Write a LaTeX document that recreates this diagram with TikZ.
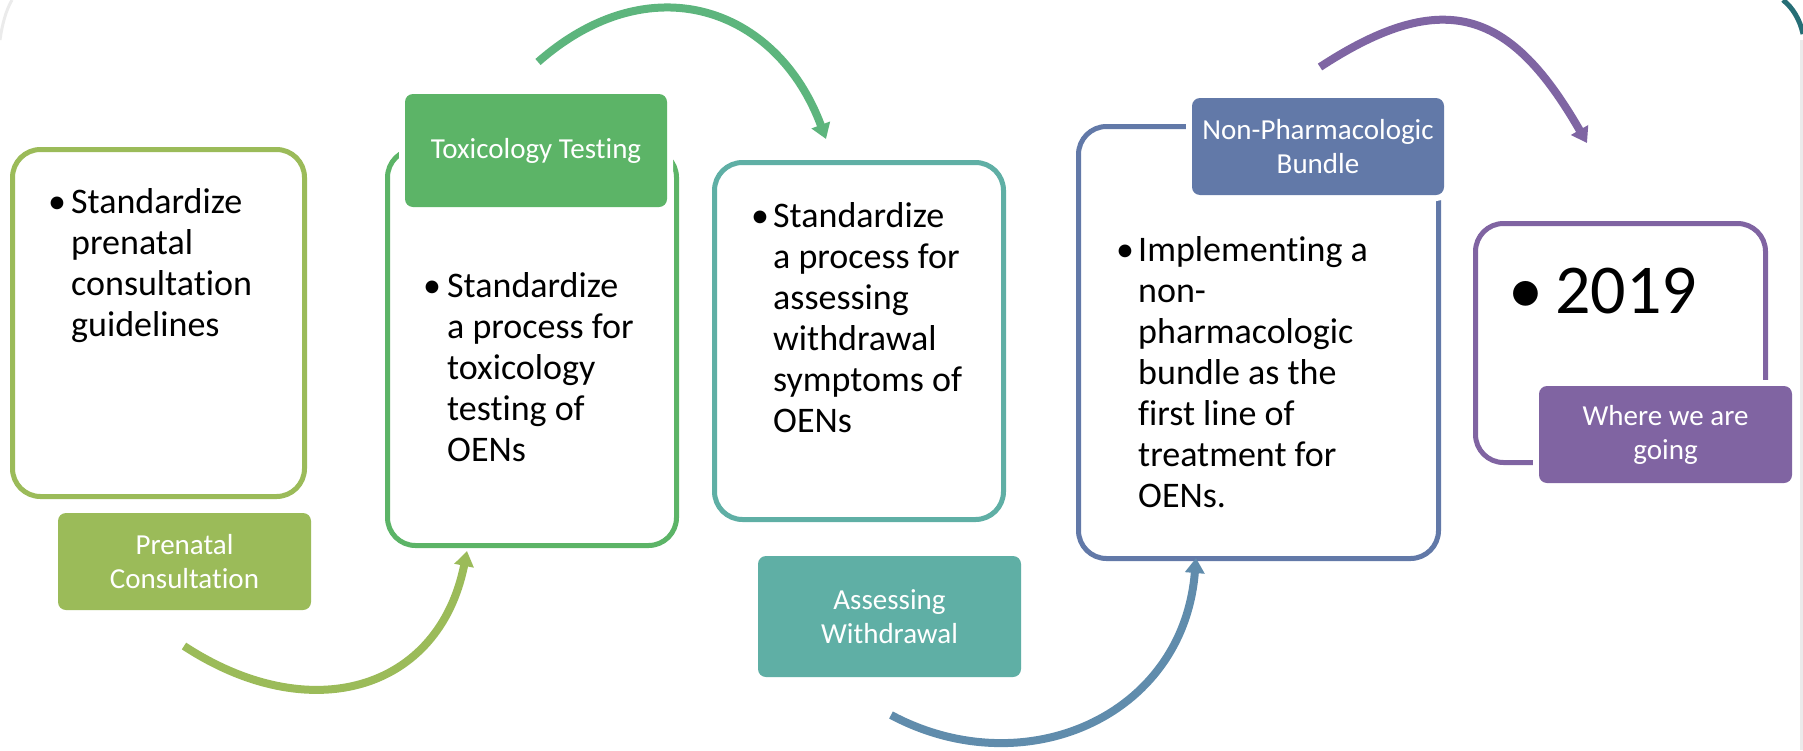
\documentclass[tikz,border=0pt]{standalone}
\usepackage{fontspec}
\setmainfont{Carlito}[Ligatures={NoCommon}]
\usetikzlibrary{arrows.meta}
\definecolor{cA}{RGB}{155,187,89}
\definecolor{cB}{RGB}{92,180,103}
\definecolor{cC}{RGB}{95,175,165}
\definecolor{cD}{RGB}{98,121,168}
\definecolor{cE}{RGB}{128,100,162}
\definecolor{aB}{RGB}{93,181,125}
\definecolor{aC}{RGB}{96,140,172}
\definecolor{aD}{RGB}{127,101,163}
\definecolor{frame}{RGB}{38,110,118}
\begin{document}
\begin{tikzpicture}[x=1pt,y=-1pt,
  card/.style={draw, line width=5pt, fill=white, rounded corners=28pt, inner sep=0pt},
  tag/.style={rounded corners=8pt, inner sep=0pt, text=white, align=center,
    font=\fontsize{29}{34}\selectfont, preaction={draw=white, line width=12pt}},
  bodytext/.style={anchor=base west, inner sep=0pt, font=\fontsize{36}{41}\selectfont},
  flow/.style={line width=8pt, -{Triangle[width=19pt,length=15pt]}}
]
\useasboundingbox (0,0) rectangle (1803,750);
% slide frame remnants
\draw[line width=5pt, frame] (1783,0) .. controls (1793,8) and (1800,20) .. (1803,34);
\draw[line width=3pt, black!8] (1801,40) -- (1801,750);
\draw[line width=3pt, black!8] (0,40) .. controls (2,25) and (6,10) .. (12,0);

% boxes
\node[card, draw=cA, minimum width=292pt, minimum height=347pt] (box1) at (158.5,323) {};
\node[card, draw=cB, minimum width=289pt, minimum height=396pt] (box2) at (532,347.5) {};
\node[card, draw=cC, minimum width=289pt, minimum height=357pt] (box3) at (859,341) {};
\node[card, draw=cD, minimum width=360pt, minimum height=432pt] (box4) at (1258.5,342.5) {};
\node[card, draw=cE, minimum width=290pt, minimum height=239pt] (box5) at (1620.5,343) {};

% labels
\node[tag, fill=cA, minimum width=253pt, minimum height=97pt] (lab1) at (184.5,561.5) {Prenatal\\Consultation};
\node[tag, fill=cB, minimum width=262pt, minimum height=113pt] (lab2) at (536,150.5) {Toxicology Testing};
\node[tag, fill=cC, minimum width=263pt, minimum height=121pt] (lab3) at (889.5,616.5) {Assessing\\Withdrawal};
\node[tag, fill=cD, minimum width=252pt, minimum height=97pt] (lab4) at (1318,146.5) {Non-Pharmacologic\\Bundle};
\node[tag, fill=cE, minimum width=253pt, minimum height=97pt] (lab5) at (1665.5,434.5) {Where we are\\going};

% texts
\node[bodytext] (t1b) at (48,213) {•};
\node[bodytext] (t1) at (71,213) {\begin{tabular}[t]{@{}l@{}}Standardize\\prenatal\\consultation\\guidelines\end{tabular}};
\node[bodytext] (t2b) at (423,297) {•};
\node[bodytext] (t2) at (447,297) {\begin{tabular}[t]{@{}l@{}}Standardize\\a process for\\toxicology\\testing of\\OENs\end{tabular}};
\node[bodytext] (t3b) at (751,227) {•};
\node[bodytext] (t3) at (773,227) {\begin{tabular}[t]{@{}l@{}}Standardize\\a process for\\assessing\\withdrawal\\symptoms of\\OENs\end{tabular}};
\node[bodytext] (t4b) at (1116,261) {•};
\node[bodytext] (t4) at (1138,261) {\begin{tabular}[t]{@{}l@{}}Implementing a\\non-\\pharmacologic\\bundle as the\\first line of\\treatment for\\OENs.\end{tabular}};
\node[anchor=base west, inner sep=0pt, font=\fontsize{70}{84}\selectfont] (t5b) at (1508,313) {•};
\node[anchor=base west, inner sep=0pt, font=\fontsize{70}{84}\selectfont] (t5) at (1555,313) {2019};

% arrows
\coordinate (a1s) at (184,646);
\coordinate (a1e) at (467,551);
\coordinate (a2s) at (538,62);
\coordinate (a2e) at (826,139);
\coordinate (a3s) at (891,715);
\coordinate (a3e) at (1196,558);
\coordinate (a4s) at (1320,67);
\coordinate (a4e) at (1587,143);
\draw[flow, color=cA] (a1s) .. controls (310,728.5) and (439,691) .. (a1e);
\draw[flow, color=aB] (a2s) .. controls (650.5,-37) and (777,7.4) .. (a2e);
\draw[flow, color=aC] (a3s) .. controls (1023,785.5) and (1183,718) .. (a3e);
\draw[flow, color=aD] (a4s) .. controls (1446,-15.5) and (1512,12.5) .. (a4e);
\end{tikzpicture}
\end{document}
